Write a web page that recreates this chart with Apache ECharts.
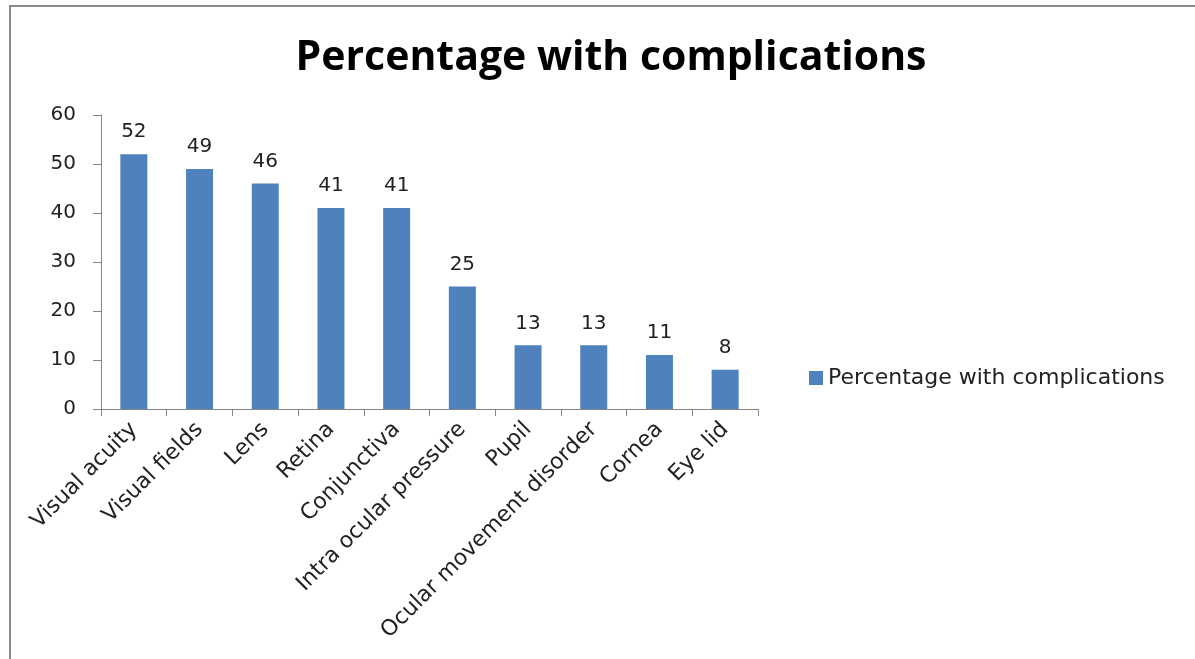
<!DOCTYPE html>
<html>
<head>
<meta charset="utf-8">
<script src="https://cdn.jsdelivr.net/npm/echarts@6/dist/echarts.min.js"></script>
<style>
  html, body { margin: 0; padding: 0; background: #fff; }
  #chart { width: 1195px; height: 659px; }
</style>
</head>
<body>
<div id="chart"></div>
<script>
const categories = ['Visual acuity', 'Visual fields', 'Lens', 'Retina', 'Conjunctiva',
  'Intra ocular pressure', 'Pupil', 'Ocular movement disorder', 'Cornea', 'Eye lid'];
const values = [52, 49, 46, 41, 41, 25, 13, 13, 11, 8];
const seriesName = 'Percentage with complications';
const yTicks = { min: 0, max: 60, interval: 10 };

const titleFont = '"Open Sans", sans-serif';
const font = '"DejaVu Sans", sans-serif';

const option = {
  animation: false,
  title: {
    text: 'Percentage with complications',
    left: 606,
    textAlign: 'center',
    top: 33,
    textStyle: { fontFamily: titleFont, fontSize: 41, fontWeight: 'bold', color: '#000' },
  },
  legend: {
    left: 804,
    top: 362,
    itemWidth: 14,
    itemHeight: 14,
    itemGap: 7,
    icon: 'rect',
    textStyle: { fontFamily: font, fontSize: 22, color: '#222' },
    data: [seriesName],
  },
  grid: { left: 101, right: 437, top: 115, bottom: 250, containLabel: false },
  xAxis: {
    type: 'category',
    data: categories,
    axisLine: { lineStyle: { color: '#868686', width: 1 } },
    axisTick: { show: true, length: 7, alignWithLabel: false, lineStyle: { color: '#868686' } },
    axisLabel: {
      interval: 0,
      rotate: 45,
      margin: 17,
      fontFamily: font,
      fontSize: 22,
      color: '#222',
    },
  },
  yAxis: {
    type: 'value',
    min: yTicks.min,
    max: yTicks.max,
    interval: yTicks.interval,
    splitLine: { show: false },
    axisLine: { show: true, lineStyle: { color: '#868686', width: 1 } },
    axisTick: { show: true, length: 8, lineStyle: { color: '#868686' } },
    axisLabel: { margin: 25, fontFamily: font, fontSize: 20, color: '#222' },
  },
  series: [
    {
      name: seriesName,
      type: 'bar',
      data: values,
      barWidth: 27,
      itemStyle: { color: '#4F81BD' },
      label: {
        show: true,
        position: 'top',
        distance: 12,
        fontFamily: font,
        fontSize: 20,
        color: '#222',
      },
    },
  ],
  graphic: [
    {
      type: 'polyline',
      shape: { points: [[10, 660], [10, 6], [1196, 6]] },
      style: { stroke: '#8c8c8c', lineWidth: 2, fill: null },
      silent: true,
    },
  ],
};

const myChart = echarts.init(document.getElementById('chart'));
myChart.setOption(option);
</script>
</body>
</html>
